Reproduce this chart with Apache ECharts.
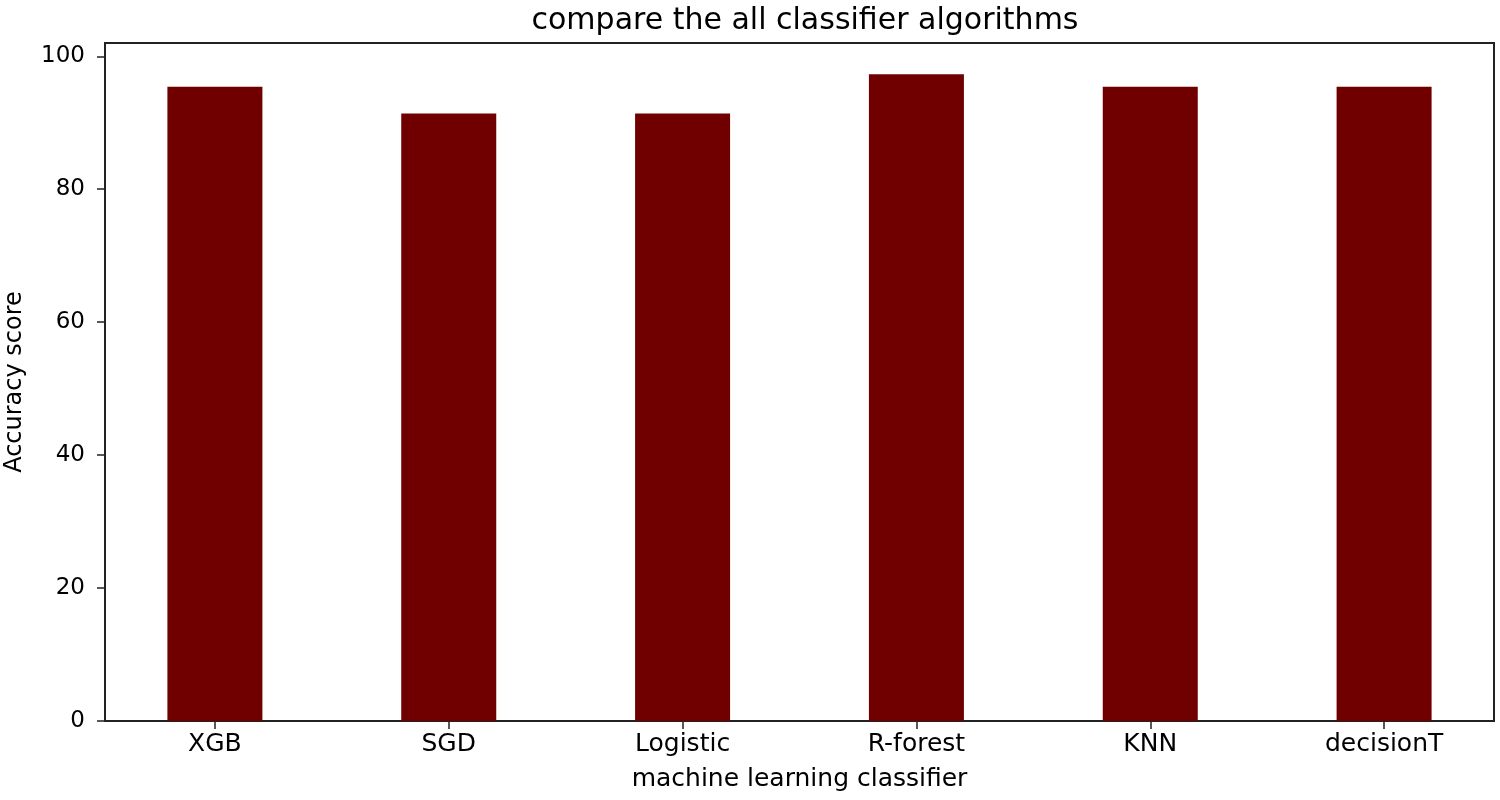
<!DOCTYPE html>
<html>
<head>
<meta charset="utf-8">
<script src="https://cdn.jsdelivr.net/npm/echarts@6/dist/echarts.min.js"></script>
<style>
html,body{margin:0;padding:0;background:#fff;}
#chart{width:1500px;height:800px;}
</style>
</head>
<body>
<div id="chart"></div>
<script>
const categories = ['XGB', 'SGD', 'Logistic', 'R-forest', 'KNN', 'decisionT'];
const accuracy = [95.4, 91.4, 91.4, 97.3, 95.4, 95.4];
const yTicks = [0, 20, 40, 60, 80, 100];
const xTicks = categories.map((c, i) => i);

const font = 'DejaVu Sans';
const chart = echarts.init(document.getElementById('chart'), null, {renderer: 'canvas'});
chart.setOption({
  animation: false,
  backgroundColor: '#ffffff',
  title: {
    text: 'compare the all classifier algorithms',
    left: 800, textAlign: 'center', top: 1,
    textStyle: {fontFamily: font, fontSize: 30, fontWeight: 'normal', color: '#000'}
  },
  grid: {
    left: 105, right: 6, top: 43, bottom: 79,
    outerBoundsMode: 'none', containLabel: false,
    show: true, borderColor: '#222', borderWidth: 2, backgroundColor: 'transparent'
  },
  xAxis: {
    type: 'value', min: -0.47, max: 5.47,
    name: 'machine learning classifier', nameLocation: 'middle', nameGap: 46,
    nameTextStyle: {fontFamily: font, fontSize: 25, color: '#000'},
    axisLine: {show: true, onZero: false, lineStyle: {color: '#222', width: 2}},
    axisTick: {show: true, length: 8, customValues: xTicks, lineStyle: {color: '#222', width: 1.5}},
    axisLabel: {
      customValues: xTicks, margin: 11,
      fontFamily: font, fontSize: 25, color: '#000',
      formatter: v => categories[Math.round(v)]
    },
    splitLine: {show: false}
  },
  yAxis: {
    type: 'value', min: 0, max: 102,
    name: 'Accuracy score', nameLocation: 'middle', nameGap: 78,
    nameTextStyle: {fontFamily: font, fontSize: 24, color: '#000'},
    axisLine: {show: true, onZero: false, lineStyle: {color: '#222', width: 2}},
    axisTick: {show: true, length: 8, customValues: yTicks, lineStyle: {color: '#222', width: 1.5}},
    axisLabel: {customValues: yTicks, margin: 20, fontFamily: font, fontSize: 23, color: '#000'},
    splitLine: {show: false}
  },
  series: [{
    type: 'bar',
    data: categories.map((c, i) => [i, accuracy[i]]),
    barWidth: 95,
    itemStyle: {color: '#700000'}
  }]
});
</script>
</body>
</html>
